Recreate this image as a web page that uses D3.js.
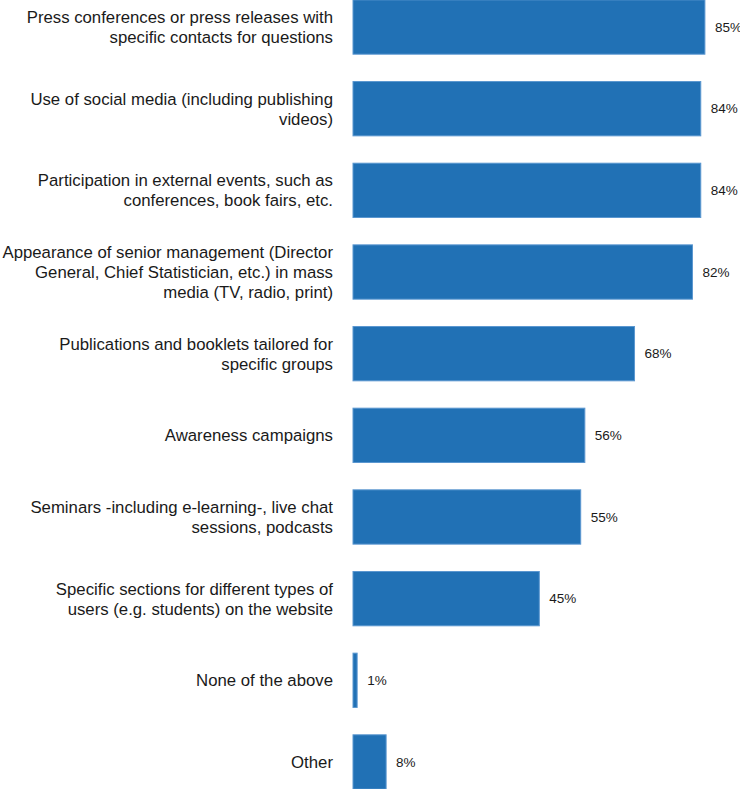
<!DOCTYPE html>
<html>
<head>
<meta charset="utf-8">
<script src="https://cdn.jsdelivr.net/npm/d3@7"></script>
<style>
  html, body { margin: 0; padding: 0; background: #fff; }
  svg { display: block; }
</style>
</head>
<body>
<svg id="chart" width="740" height="789"></svg>
<script>
// Communication channels, one entry per bar (label lines wrap as in the layout)
const categories = [
  ["Press conferences or press releases with", "specific contacts for questions"],
  ["Use of social media (including publishing", "videos)"],
  ["Participation in external events, such as", "conferences, book fairs, etc."],
  ["Appearance of senior management (Director", "General, Chief Statistician, etc.) in mass", "media (TV, radio, print)"],
  ["Publications and booklets tailored for", "specific groups"],
  ["Awareness campaigns"],
  ["Seminars -including e-learning-, live chat", "sessions, podcasts"],
  ["Specific sections for different types of", "users (e.g. students) on the website"],
  ["None of the above"],
  ["Other"]
];
const values = [85, 84, 84, 82, 68, 56, 55, 45, 1, 8];
const valueLabels = ["85%", "84%", "84%", "82%", "68%", "56%", "55%", "45%", "1%", "8%"];

const svg = d3.select("#chart");
const W = 740, H = 789;
const x0 = 353;

const idx = d3.range(values.length);
const x = d3.scaleLinear().domain([0, 100]).range([x0, x0 + 414]);
const y = d3.scaleBand().domain(idx).range([-14, H + 14]).paddingInner(0.335).paddingOuter(0.17);

// Bars
svg.selectAll("rect.bar")
  .data(idx)
  .join("rect")
  .attr("class", "bar")
  .attr("x", x(0))
  .attr("y", i => y(i))
  .attr("width", i => x(values[i]) - x(0))
  .attr("height", y.bandwidth())
  .attr("fill", "#2171b5")
  .attr("stroke", "#5b97d0")
  .attr("stroke-width", 1);

// Value labels
svg.selectAll("text.val")
  .data(idx)
  .join("text")
  .attr("class", "val")
  .attr("x", i => x(values[i]) + 10)
  .attr("y", i => y(i) + y.bandwidth() / 2)
  .attr("dy", "0.35em")
  .attr("font-family", "Liberation Sans, Arial, sans-serif")
  .attr("font-size", 13.5)
  .attr("fill", "#1a1a1a")
  .text(i => valueLabels[i]);

// Category labels, right-aligned next to the bars
const lineH = 20;
const cat = svg.selectAll("text.cat")
  .data(idx)
  .join("text")
  .attr("class", "cat")
  .attr("text-anchor", "end")
  .attr("font-family", "Liberation Sans, Arial, sans-serif")
  .attr("font-size", 16.75)
  .attr("fill", "#1a1a1a");

cat.each(function(i) {
  const lines = categories[i];
  const cy = y(i) + y.bandwidth() / 2;
  const start = cy - (lines.length - 1) * lineH / 2;
  d3.select(this).selectAll("tspan")
    .data(lines)
    .join("tspan")
    .attr("x", 333)
    .attr("y", (d, k) => start + k * lineH)
    .attr("dy", "0.35em")
    .text(d => d);
});
</script>
</body>
</html>
